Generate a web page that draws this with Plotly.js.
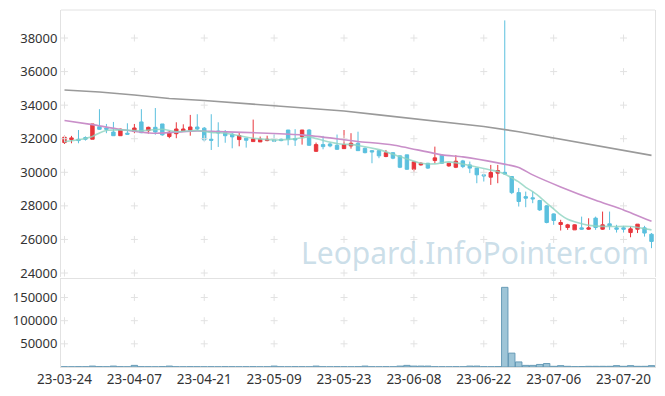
<!DOCTYPE html>
<html><head><meta charset="utf-8">
<script src="https://cdn.plot.ly/plotly-3.0.1.min.js"></script>
<style>html,body{margin:0;padding:0;background:#fff}#chart{width:665px;height:396px}</style>
</head><body><div id="chart"></div>
<script>
const dates = ["23-03-24","23-03-27","23-03-28","23-03-29","23-03-30","23-03-31","23-04-03","23-04-04","23-04-05","23-04-06",
"23-04-07","23-04-10","23-04-11","23-04-12","23-04-13","23-04-14","23-04-17","23-04-18","23-04-19","23-04-20",
"23-04-21","23-04-24","23-04-25","23-04-26","23-04-27","23-04-28","23-05-02","23-05-03","23-05-04","23-05-08",
"23-05-09","23-05-10","23-05-11","23-05-12","23-05-15","23-05-16","23-05-17","23-05-18","23-05-19","23-05-22",
"23-05-23","23-05-24","23-05-25","23-05-26","23-05-30","23-05-31","23-06-01","23-06-02","23-06-05","23-06-07",
"23-06-08","23-06-09","23-06-12","23-06-13","23-06-14","23-06-15","23-06-16","23-06-19","23-06-20","23-06-21",
"23-06-22","23-06-23","23-06-26","23-06-27","23-06-28","23-06-29","23-06-30","23-07-03","23-07-04","23-07-05",
"23-07-06","23-07-07","23-07-10","23-07-11","23-07-12","23-07-13","23-07-14","23-07-17","23-07-18","23-07-19",
"23-07-20","23-07-21","23-07-24","23-07-25","23-07-26"];

const openP = [31770,31950,31970,32070,31970,32720,32640,32400,32180,32330,
32430,33000,32480,32680,32880,32130,32300,32470,32510,32700,
32630,31970,32460,32360,32270,31950,32030,31830,31810,31890,
31930,31970,32520,32010,32130,32520,31250,31650,31690,31610,
31410,31570,31730,31430,31290,31290,30940,31170,30980,31040,
30180,30440,30540,30700,31020,30380,30300,30680,30440,30250,
29850,29710,29950,30000,29750,28790,28550,28480,28320,28000,
27520,26890,26710,26570,26690,26610,27270,26610,26930,26690,
26690,26410,26610,26690,26310];
const highP = [32210,32170,32520,32140,32880,33760,32880,33000,32600,32920,
32880,33760,32720,33830,32880,32470,32980,32860,33420,33460,
32700,33460,32980,32520,32340,32340,32030,33140,32130,32180,
32250,32010,32520,32570,32520,32570,31770,32170,31770,32250,
32520,32330,32420,31480,31330,31330,31330,31200,30990,31040,
30640,30600,30560,31530,31060,30560,31020,30740,30640,30250,
29900,30440,30440,39050,29750,29070,28850,28850,28360,28050,
27550,27170,26930,26900,27360,27260,27360,27660,27660,26870,
26810,26770,26910,26810,26380];
const lowP = [31690,31730,31730,31890,31970,32520,32330,32170,32170,32240,
32330,32330,32300,32240,32180,32030,32030,32420,32180,32500,
31850,31330,31510,31760,31430,31550,31470,31830,31810,31850,
31810,31850,31610,31570,31650,31570,31210,31370,31490,31330,
31410,31410,31290,31130,30540,30840,30900,30780,30250,30150,
30040,30400,30200,30540,30500,30330,30250,30250,29950,29350,
29450,29250,29350,29850,28700,27960,27920,28160,27700,26960,
26870,26530,26570,26570,26570,26570,26570,26570,26570,26410,
26410,26130,26380,26170,25480];
const closeP = [32090,32050,31890,31970,32880,32560,32560,32180,32570,32270,
32640,32360,32680,32400,32230,32390,32580,32580,32700,32580,
31930,31910,32340,32180,32110,32190,31910,31990,31970,31970,
31850,31890,31970,31930,32520,31610,31650,31530,31570,31370,
31650,31730,31290,31170,31210,30980,31170,30840,30300,30180,
30620,30540,30250,30860,30540,30540,30660,30340,30250,29850,
29790,29990,30100,29900,28790,28260,28460,28420,27760,27010,
27130,27010,26870,26870,26610,26690,26710,26870,26810,26610,
26610,26630,26910,26380,25880];
const volume = [600,500,700,600,2000,800,600,2000,700,500,
3500,700,600,500,800,2000,600,500,700,600,
500,600,500,700,600,500,600,700,500,600,
2000,600,500,700,600,500,2000,600,500,700,
600,500,700,2000,600,500,700,600,2000,3500,
2000,2000,2000,700,600,500,700,600,2000,2000,
700,600,800,172000,30000,11000,3500,3500,5500,7500,
1500,3000,1500,800,1000,1500,1500,1500,1500,3000,
1500,3000,1500,1500,3000];
const ma5 = [31830,null,31940,null,32140,32345,32495,null,32525,null,
null,32480,null,null,32565,null,32420,null,null,32495,
null,32375,null,32330,null,null,null,32030,null,null,
31930,null,null,31990,null,32110,null,31900,null,31720,
null,null,31600,null,null,31350,null,null,30935,null,
null,30540,null,30500,null,30620,null,null,30410,null,
null,30140,30050,29900,29670,29430,29100,28850,28540,28160,
27820,27465,27200,27050,null,26840,null,null,26770,null,
null,26770,null,null,26570];
const ma20 = [33090,null,null,null,32840,null,null,null,32555,null,
null,null,null,32330,null,null,null,null,null,32465,
null,null,32425,null,null,null,null,null,null,32330,
null,null,null,null,32230,null,null,null,32050,null,
null,null,31840,null,null,null,null,31630,null,null,
null,null,null,null,31040,null,null,30920,null,null,
null,null,30560,null,null,30290,null,29845,null,null,
null,29130,null,null,null,null,28330,null,null,null,
27760,null,null,null,27080];
const ma60 = [34905,null,null,null,null,34780,null,null,null,null,
34607,null,null,null,null,34400,null,null,null,null,
34280,null,null,null,null,34130,null,null,null,null,
33980,null,null,null,null,33800,null,null,null,null,
33650,null,null,null,null,33420,null,null,null,null,
33200,null,null,null,null,32990,null,null,null,null,
32730,null,null,null,null,32420,null,null,null,null,
32060,null,null,null,null,31700,null,null,null,null,
31340,null,null,null,31010];

const priceTicks = [24000,26000,28000,30000,32000,34000,36000,38000];
const volTicks = [50000,100000,150000];
const xTickIdx = [0,10,20,30,40,50,60,70,80];
const xTicks = xTickIdx.map(i => dates[i]);

const gx = [], gy = [], vx = [], vy = [];
xTicks.forEach(d => { priceTicks.forEach(p => { gx.push(d); gy.push(p); });
                      volTicks.forEach(v => { vx.push(d); vy.push(v); }); });

const red = '#e8363c', blue = '#5bc0de';
const crossMarker = {symbol:'cross-thin', size:5, line:{color:'#e2e2e2', width:1}};
const traces = [
 {type:'scatter', mode:'markers', x:gx, y:gy, xaxis:'x', yaxis:'y', hoverinfo:'skip', marker:crossMarker},
 {type:'scatter', mode:'markers', x:vx, y:vy, xaxis:'x', yaxis:'y2', hoverinfo:'skip', marker:crossMarker},
 {type:'candlestick', x:dates, open:openP, high:highP, low:lowP, close:closeP, xaxis:'x', yaxis:'y',
  increasing:{line:{color:red, width:1}, fillcolor:red},
  decreasing:{line:{color:blue, width:1}, fillcolor:blue}},
 {type:'scatter', mode:'lines', x:dates, y:ma60, connectgaps:true, yaxis:'y',
  line:{color:'#9a9a9a', width:1.6}},
 {type:'scatter', mode:'lines', x:dates, y:ma20, connectgaps:true, yaxis:'y',
  line:{color:'#c98fc9', width:1.6, shape:'spline', smoothing:0.6}},
 {type:'scatter', mode:'lines', x:dates, y:ma5, connectgaps:true, yaxis:'y', opacity:0.8,
  line:{color:'#8dd3c0', width:1.6, shape:'spline', smoothing:0.6}},
 {type:'bar', x:dates, y:volume, xaxis:'x', yaxis:'y2',
  marker:{color:'rgba(125,178,202,0.75)', line:{color:'rgba(95,150,178,0.9)', width:1}}}
];

const tickFont = {family:'Noto Sans, DejaVu Sans, sans-serif', size:13, color:'#333'};
const layout = {
 width:665, height:396, showlegend:false,
 paper_bgcolor:'#fff', plot_bgcolor:'#fff',
 margin:{l:61, r:10, t:10, b:29},
 bargap:0.08,
 xaxis:{type:'category', categoryorder:'array', categoryarray:dates,
   range:[-0.5, dates.length-0.5], anchor:'y2',
   tickvals:xTicks, ticktext:xTicks, tickangle:0, tickfont:{...tickFont, size:13.5}, ticks:'',
   showgrid:false, zeroline:false, showline:true, linecolor:'#e2e2e2', mirror:true,
   rangeslider:{visible:false}},
 yaxis:{domain:[0.252,1], range:[23760,39670], tickvals:priceTicks, tickformat:'d', tickfont:tickFont,
   showgrid:false, zeroline:false, showline:true, linecolor:'#e2e2e2', mirror:true, ticks:''},
 yaxis2:{domain:[0,0.2465], range:[0,190000], tickvals:volTicks, tickformat:'d', tickfont:tickFont,
   showgrid:false, zeroline:false, showline:true, linecolor:'#e2e2e2', mirror:true, ticks:''},
 shapes:[{type:'line', xref:'paper', yref:'paper', x0:0, x1:1, y0:1, y1:1, line:{color:'#e2e2e2', width:1}}],
 annotations:[{text:'Leopard.InfoPointer.com', xref:'paper', yref:'paper', x:0.697, y:0.322,
   xanchor:'center', yanchor:'middle', showarrow:false,
   font:{family:'Noto Sans, sans-serif', size:30, color:'rgba(160,195,215,0.55)'}}]
};
Plotly.newPlot('chart', traces, layout, {displayModeBar:false, staticPlot:true});
</script></body></html>
